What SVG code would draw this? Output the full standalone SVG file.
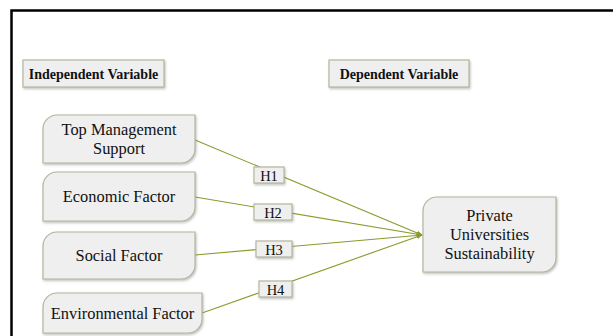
<svg xmlns="http://www.w3.org/2000/svg" width="613" height="336" viewBox="0 0 613 336">
<style>
.node path, .hdr rect, .lbl rect { fill: #efefef; stroke: #b3b69c; stroke-width: 1.2; filter: url(#sh); }
text { font-family: "Liberation Serif", "Times New Roman", serif; fill: #111; text-anchor: middle; }
.t { font-size: 16.4px; }
.h { font-size: 14px; font-weight: bold; }
.l { font-size: 14.5px; }
.edge { stroke: #8a9a2c; stroke-width: 1.1; fill: none; marker-end: url(#ah); }
</style>
<defs>
<filter id="sh" x="-10%" y="-10%" width="130%" height="140%">
<feDropShadow dx="1" dy="1.5" stdDeviation="1" flood-color="#777" flood-opacity="0.45"/>
</filter>
<marker id="ah" viewBox="0 0 10 10" refX="9" refY="5" markerWidth="6" markerHeight="6" markerUnits="userSpaceOnUse" orient="auto">
<path d="M0,1 L10,5 L0,9 Z" fill="#8a9a2c"/>
</marker>
</defs>
<rect width="613" height="336" fill="#fff"/>
<path d="M11.5,336 V10.5 H613" fill="none" stroke="#000" stroke-width="2.5"/>

<g id="hdr-independent" class="hdr">
<rect x="23" y="60" width="141" height="27"/>
<text class="h" x="93.5" y="78.5">Independent Variable</text>
</g>
<g id="hdr-dependent" class="hdr">
<rect x="329" y="60" width="140" height="27"/>
<text class="h" x="399" y="78.5">Dependent Variable</text>
</g>

<g id="connectors">
<line class="edge" x1="195" y1="140" x2="422" y2="235"/>
<line class="edge" x1="195" y1="197" x2="422" y2="235"/>
<line class="edge" x1="195" y1="255" x2="422" y2="235"/>
<line class="edge" x1="202" y1="313" x2="422" y2="235"/>
<g class="lbl">
<rect x="254" y="167" width="30" height="16"/>
<text class="l" x="269" y="180.5">H1</text>
<rect x="254" y="204" width="38" height="16"/>
<text class="l" x="273" y="217.5">H2</text>
<rect x="256" y="241" width="36" height="16"/>
<text class="l" x="274" y="254.5">H3</text>
<rect x="259" y="281" width="33" height="16"/>
<text class="l" x="275.5" y="294.5">H4</text>
</g>
</g>

<g id="n-top" class="node">
<path d="M57,115 H195 V149 A14,14 0 0 1 181,163 H43 V129 A14,14 0 0 1 57,115 Z"/>
<text class="t" x="119" y="134.5">Top Management</text>
<text class="t" x="119" y="153.5">Support</text>
</g>
<g id="n-economic" class="node">
<path d="M57,172 H195 V207 A14,14 0 0 1 181,221 H43 V186 A14,14 0 0 1 57,172 Z"/>
<text class="t" x="119" y="202">Economic Factor</text>
</g>
<g id="n-social" class="node">
<path d="M57,232 H195 V265 A14,14 0 0 1 181,279 H43 V246 A14,14 0 0 1 57,232 Z"/>
<text class="t" x="119" y="260.5">Social Factor</text>
</g>
<g id="n-environmental" class="node">
<path d="M57,293 H202 V319 A14,14 0 0 1 188,333 H43 V307 A14,14 0 0 1 57,293 Z"/>
<text class="t" x="122.5" y="318.5">Environmental Factor</text>
</g>
<g id="n-private" class="node">
<path d="M437,197 H556 V258 A14,14 0 0 1 542,272 H423 V211 A14,14 0 0 1 437,197 Z"/>
<text class="t" x="489.5" y="221">Private</text>
<text class="t" x="489.5" y="240">Universities</text>
<text class="t" x="489.5" y="258.5">Sustainability</text>
</g>
</svg>
